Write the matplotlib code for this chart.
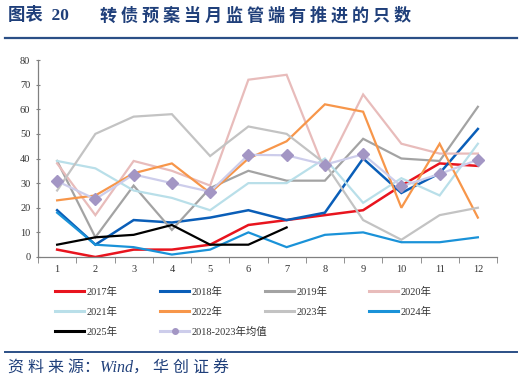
import matplotlib
matplotlib.use('Agg')
import matplotlib.pyplot as plt
from matplotlib.lines import Line2D
import numpy as np

# --- DONNEES ---
months = list(range(1, 13))
y2017 = [3, 0, 3, 3, 5, 13, 15, 17, 19, 29, 38, 37]
y2018 = [19, 5, 15, 14, 16, 19, 15, 18, 40, 26, 34, 52]
y2019 = [39, 8, 29, 11, 28, 35, 31, 31, 48, 40, 39, 61]
y2020 = [38, 17, 39, 35, 29, 72, 74, 35, 66, 46, 42, 42]
y2021 = [39, 36, 27, 24, 19, 30, 30, 40, 22, 32, 25, 46]
y2022 = [23, 25, 34, 38, 26, 40, 47, 62, 59, 20, 46, 16]
y2023 = [27, 50, 57, 58, 41, 53, 50, 38, 15, 7, 17, 20]
y2024 = [18, 5, 4, 1, 3, 10, 4, 9, 10, 6, 6, 8]
y2025 = [5, 8, 9, 13, 5, 5, 12]
avg_18_23 = [30.8, 23.5, 33.5, 30.0, 26.5, 41.5, 41.3, 37.5, 41.7, 28.7, 33.7, 39.5]

series = [
    ('2017年', y2017, '#E8141E', 1.8),
    ('2018年', y2018, '#0A5EB8', 1.8),
    ('2019年', y2019, '#A3A3A3', 1.6),
    ('2020年', y2020, '#E8BCBB', 1.6),
    ('2021年', y2021, '#B9DFE9', 1.6),
    ('2022年', y2022, '#F7964A', 1.6),
    ('2023年', y2023, '#C3C3C3', 1.6),
    ('2024年', y2024, '#1A92D8', 1.6),
    ('2025年', y2025, '#000000', 1.6),
]

SERIF_CJK = ['Liberation Serif', 'Noto Sans CJK SC']
TITLE_BLUE = '#1F3F7A'

fig = plt.figure(figsize=(5.24, 3.83), dpi=100)
ax = fig.add_axes([38 / 524, 1 - 257 / 383, (497 - 38) / 524, (257 - 60) / 383])

handles = {}
for name, vals, col, lw in series:
    h, = ax.plot(months[:len(vals)], vals, color=col, lw=lw, label=name,
                 solid_joinstyle='miter')
    handles[name] = h
h_avg, = ax.plot(months, avg_18_23, color='#CDCDEB', lw=1.6, marker='D',
                 markersize=6, markerfacecolor='#A396C4', markeredgecolor='#A396C4',
                 label='2018-2023年均值')
handles['2018-2023年均值'] = h_avg

# --- AXES ---
ax.set_xlim(0.5, 12.5)
ax.set_ylim(0, 80)
ax.set_yticks(range(0, 81, 10))
ax.set_xticks(months)
ax.set_xticks(np.arange(0.5, 12.6, 1), minor=True)
ax.tick_params(axis='x', which='major', length=0, pad=6)
ax.tick_params(axis='x', which='minor', length=4, color='#808080', direction='out')
ax.tick_params(axis='y', length=3, color='#808080', direction='inout', pad=4)
for lab in ax.get_xticklabels() + ax.get_yticklabels():
    lab.set_family('Liberation Serif')
    lab.set_fontsize(7.5)
    lab.set_color('#333333')
for s in ['top', 'right']:
    ax.spines[s].set_visible(False)
for s in ['left', 'bottom']:
    ax.spines[s].set_color('#808080')
    ax.spines[s].set_linewidth(0.9)

# --- LEGENDE (4 colonnes, ordre ligne par ligne) ---
cols = [
    (55, ['2017年', '2021年', '2025年']),
    (160, ['2018年', '2022年', '2018-2023年均值']),
    (265, ['2019年', '2023年']),
    (369, ['2020年', '2024年']),
]
for x0, names in cols:
    hs = []
    for n in names:
        h = handles[n]
        hs.append(Line2D([], [], color=h.get_color(), lw=2.2,
                         marker='o' if n.startswith('2018-') else None,
                         markersize=4, markerfacecolor='#A396C4',
                         markeredgecolor='#A396C4'))
    leg = fig.legend(hs, names, loc='upper left',
                     bbox_to_anchor=(x0 / 524, 1 - 287 / 383),
                     frameon=False, handlelength=2.8, handletextpad=0.25,
                     labelspacing=0.95, borderpad=0, borderaxespad=0,
                     prop={'family': SERIF_CJK, 'size': 7.5})
    for t in leg.get_texts():
        t.set_color('#333333')

# --- TITRE ET SOURCE ---
fig.text(8 / 524, 1 - 16 / 383, '图表  20', family=SERIF_CJK, weight='bold',
         fontsize=12.5, color=TITLE_BLUE, va='center', ha='left')
fig.text(100 / 524, 1 - 16 / 383, '转 债 预 案 当 月 监 管 端 有 推 进 的 只 数',
         family=['Noto Sans CJK SC'], weight='bold', fontsize=12.3,
         color=TITLE_BLUE, va='center', ha='left')
fig.add_artist(Line2D([5 / 524, 517 / 524], [1 - 38 / 383] * 2,
                      color='#2B4F86', lw=1.6))
fig.add_artist(Line2D([5 / 524, 517 / 524], [1 - 352 / 383] * 2,
                      color='#2B4F86', lw=1.4))
fig.text(8 / 524, 1 - 369 / 383, '资 料 来 源：Wind， 华 创 证 券', family=SERIF_CJK,
         style='italic', fontsize=11.5, color=TITLE_BLUE, va='center', ha='left')

fig.savefig('out.png', dpi=100)
